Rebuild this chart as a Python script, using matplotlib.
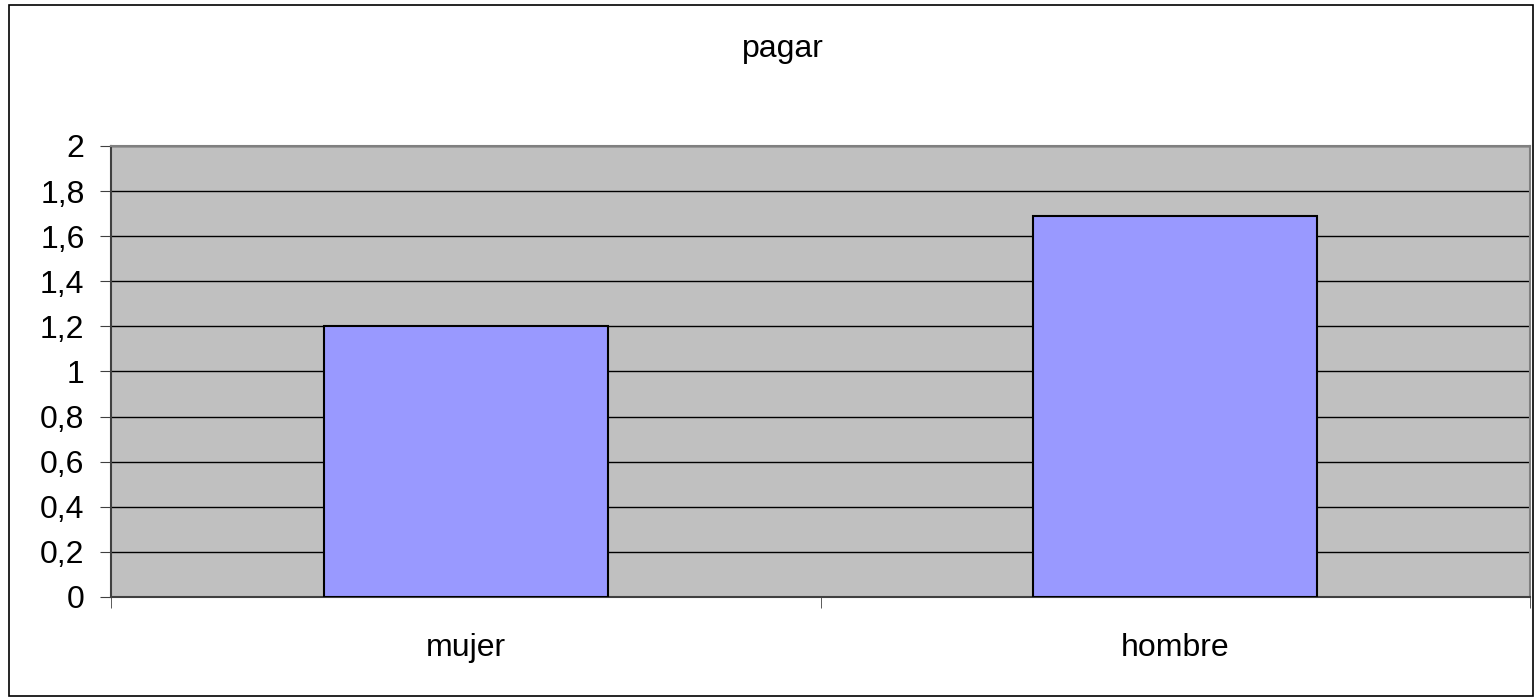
import numpy as np
import matplotlib.pyplot as plt
from matplotlib.patches import Rectangle

# data
categories = ["mujer", "hombre"]
values = [1.2, 1.69]
yticks = [0, 0.2, 0.4, 0.6, 0.8, 1, 1.2, 1.4, 1.6, 1.8, 2]

plt.rcParams["font.family"] = ["Liberation Sans", "DejaVu Sans"]

fig = plt.figure(figsize=(15.38, 6.98), dpi=100)
ax = fig.add_axes([111 / 1538, 1 - 597 / 698, (1530 - 111) / 1538, (597 - 146) / 698])

# outer border of the chart
fig.patches.append(Rectangle((9 / 1538, 2 / 698), 1524 / 1538, 691 / 698,
                             transform=fig.transFigure, fill=False,
                             edgecolor="black", linewidth=1.2))

x = np.arange(len(categories))
ax.set_facecolor("#C0C0C0")
ax.bar(x, values, width=0.4, color="#9999FF", edgecolor="black", linewidth=1.5, zorder=3)

ax.set_xlim(-0.5, len(categories) - 0.5)
ax.set_ylim(0, 2)
ax.set_yticks(yticks)
ax.set_yticklabels([f"{v:g}".replace(".", ",") for v in yticks], fontsize=23)
ax.yaxis.grid(True, color="black", linewidth=1, zorder=1)

# category labels at the centres, tick marks at the boundaries
ax.set_xticks(x)
ax.set_xticklabels(categories, fontsize=23)
ax.tick_params(axis="x", length=0, pad=26)
ax.set_xticks(np.arange(-0.5, len(categories)), minor=True)
ax.tick_params(axis="x", which="minor", length=8, color="#404040")
ax.tick_params(axis="y", length=8, color="#404040", pad=11)

for s in ["top", "right"]:
    ax.spines[s].set_color("#808080")
    ax.spines[s].set_linewidth(1.5)
for s in ["left", "bottom"]:
    ax.spines[s].set_color("#404040")
    ax.spines[s].set_linewidth(1.5)

fig.text(783 / 1538, 1 - 57 / 698, "pagar", ha="center", va="baseline", fontsize=23)

fig.savefig("out.png", dpi=100)
